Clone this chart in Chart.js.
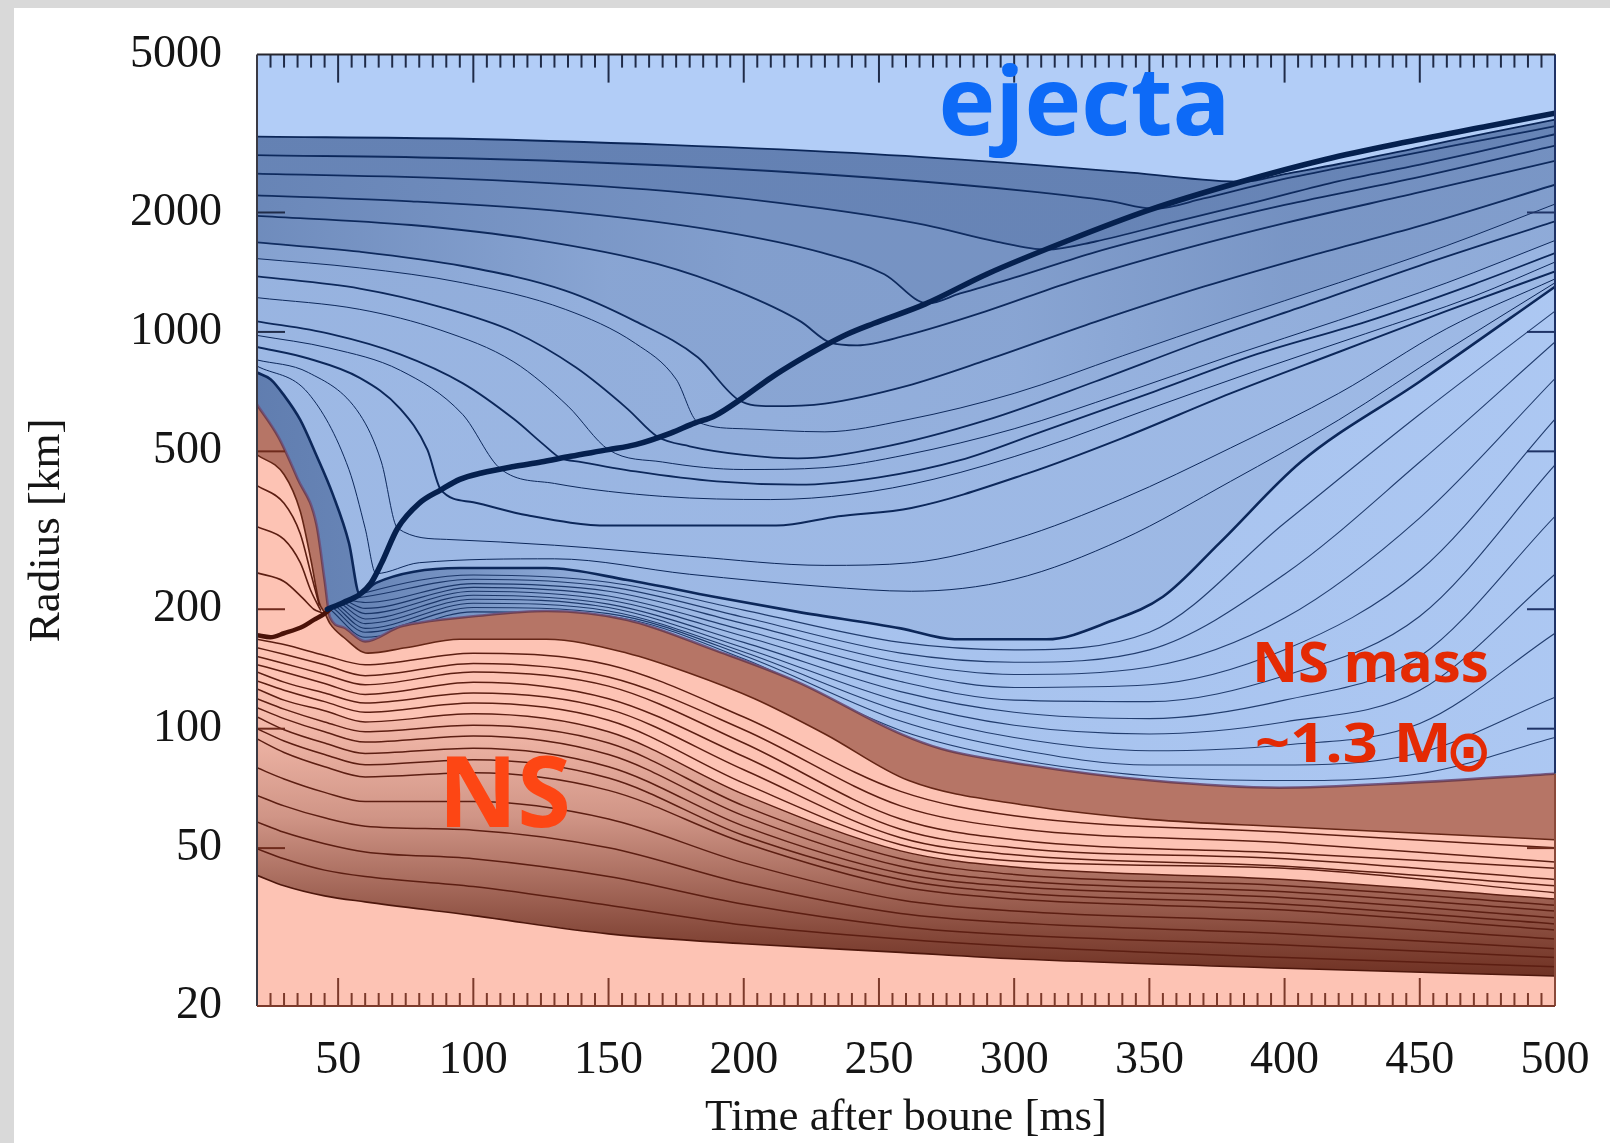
<!DOCTYPE html>
<html>
<head>
<meta charset="utf-8">
<title>Mass shell trajectories</title>
<script src="https://cdn.jsdelivr.net/npm/chart.js@4.4.1/dist/chart.umd.min.js"></script>
<style>
  html, body { margin: 0; padding: 0; background: #fff; }
  #box { width: 1610px; height: 1143px; }
</style>
</head>
<body>
<div id="box"><canvas id="myChart" width="1610" height="1143"></canvas></div>
<script>
// axes: time after bounce [ms], radius [km]
const timeTicks = [50, 100, 150, 200, 250, 300, 350, 400, 450, 500];
const radiusTicks = [20, 50, 100, 200, 500, 1000, 2000, 5000];

// shock front [t, r]
const earlyShock = [[20,172],[25,170],[30,174],[37,181],[41,188],[45,195],[47,200]];
const shockFront = [[46,200],[52,208],[58,218],[62,232],[66,261],[72,320],[80,370],[88,400],[95,425],[103,441],
  [115,458],[125,470],[136,486],[150,505],[160,520],[173,556],[182,590],[189,613],[200,685],[210,766],[220,845],
  [229,916],[238,985],[248,1050],[267,1175],[290,1400],[320,1700],[350,2030],[383,2380],[415,2720],[445,3010],[475,3300],[500,3557]];

// mass shells outside the neutron star [t, r], outermost first
const shellS1 = [[20,3105],[96,3068],[172,2960],[248,2806],[305,2644],[343,2521],[385,2390],[400,2500],[420,2650],[450,2920],[475,3170],[500,3430]];
const shellS2 = [[20,2790],[96,2740],[172,2627],[248,2447],[305,2264],[335,2140],[352,2045],[370,2170],[395,2390],[420,2590],[450,2840],[475,3060],[500,3300]];
const shellS3 = [[20,2505],[96,2432],[172,2264],[229,2047],[267,1860],[293,1691],[312,1612],[330,1690],[360,1900],[390,2130],[420,2400],[450,2640],[475,2880],[500,3150]];
const shellS4 = [[20,2210],[77,2134],[134,2010],[191,1795],[229,1584],[252,1398],[268,1180],[280,1250],[300,1370],[330,1590],[360,1800],[400,2090],[450,2460],[500,2950]];
const shellS5 = [[20,1962],[77,1860],[122,1712],[168,1484],[198,1263],[221,1063],[232,940],[242,925],[260,980],[290,1130],[320,1330],[360,1600],[400,1880],[450,2250],[500,2700]];
const shellS6 = [[20,1681],[58,1593],[96,1466],[134,1271],[160,1063],[183,863],[198,675],[210,650],[230,660],[260,730],[290,850],[330,1060],[370,1300],[410,1560],[450,1850],[500,2350]];
const shellM5 = [[20,1530],[58,1450],[96,1330],[134,1140],[160,935],[175,760],[183,593],[200,570],[230,560],[260,600],[300,700],[340,870],[380,1080],[420,1330],[460,1650],[500,2100]];
const shellS7 = [[20,1381],[58,1286],[88,1155],[115,1001],[138,813],[157,640],[168,545],[180,515],[200,490],[220,480],[250,510],[290,600],[330,750],[370,950],[410,1180],[450,1470],[500,1900]];
const shellM4 = [[20,1220],[58,1140],[88,1010],[115,840],[135,650],[150,505],[170,470],[200,450],[230,455],[260,490],[300,570],[340,700],[380,870],[420,1070],[460,1330],[500,1700]];
const shellS8 = [[20,1063],[47,989],[73,878],[96,743],[115,603],[126,520],[132,482],[140,470],[160,445],[190,420],[220,412],[250,430],[280,475],[310,560],[350,700],[390,880],[430,1060],[470,1320],[500,1580]];
const shellM3 = [[20,980],[47,910],[73,800],[96,620],[110,452],[130,415],[170,385],[210,378],[240,390],[270,425],[310,510],[350,640],[390,800],[430,990],[470,1230],[500,1500]];
const shellLb = [[20,916],[39,857],[58,766],[73,640],[83,505],[88,400],[100,372],[120,345],[150,325],[212,325],[235,343],[262,360],[305,440],[340,540],[380,700],[420,890],[460,1130],[500,1420]];
const shellM1 = [[20,850],[39,790],[58,620],[66,470],[72,320],[90,300],[130,290],[180,272],[230,258],[262,262],[300,300],[340,380],[380,510],[420,700],[460,1020],[500,1360]];
const shellM2 = [[20,820],[39,700],[54,450],[60,320],[64,246],[80,262],[130,268],[180,245],[230,228],[262,222],[300,238],[340,300],[380,420],[420,600],[460,900],[500,1330]];
const shellLa = [[20,790],[25,760],[30,692],[36,600],[42,488],[48,390],[54,294],[58,218],[64,233],[95,254],[127,254],[157,237],[189,215],[220,197],[258,179],[278,168],[312,168],[336,187],[355,215],[376,294],[406,470],[450,750],[500,1300]];

// shells that cross the shock early and sit just above the NS
const fanShells = [
  [[56,215],[60,220],[100,244],[150,234],[200,199],[258,165],[300,158],[350,175],[400,330],[450,620],[500,1128]],
  [[55,213],[60,215],[100,238],[150,228],[200,191],[258,155],[300,147],[350,158],[400,245],[450,470],[500,943]],
  [[54,211],[60,208],[100,232],[150,222],[200,184],[258,147],[300,137],[350,143],[400,190],[450,340],[500,763]],
  [[53,210],[60,201],[100,227],[150,216],[200,177],[258,139.5],[300,127],[350,129],[400,158],[450,250],[500,603]],
  [[52,208],[60,195],[100,222],[150,211],[200,171],[258,131.5],[300,118],[350,117],[400,136],[450,192],[500,462]],
  [[51,207],[60,189],[100,217],[150,206],[200,165],[258,124],[300,110],[350,106],[400,118],[450,152],[500,343]],
  [[50,205],[60,184],[100,212],[150,202],[200,160],[258,117],[300,102],[350,97],[400,104],[450,125],[500,245]],
  [[49,204],[60,179],[100,207],[150,198],[200,156],[258,110.6],[300,95],[350,88],[400,91],[450,103],[500,174]],
  [[48,202],[60,175],[100,202],[150,195],[200,153],[258,104.5],[300,89],[350,81],[400,81],[450,87],[500,120]],
  [[47,200],[60,170],[100,197],[150,192],[200,150],[258,99],[300,84],[350,76],[400,74],[450,77],[500,95]]
];

// neutron star surface and inner edge of the accreted layer
const nsSurface = [[20,656],[28,542],[35,427],[42,327],[45,237],[47,191],[52,180],[60,166],[73,181],[80,185],[100,192],[127,198],
  [157,188],[189,158],[220,131],[258,97],[273,89],[305,81],[351,74],[398,71],[445,73],[500,77]];
const nsBandInner = [[20,490],[30,437],[36,353],[40,265],[43,208],[45,196],[47,184],[52,170],[61,155],[75,160],[95,168],[127,168],
  [157,155],[180,138],[204,119],[230,97],[261,74],[305,64],[351,59],[398,56.7],[450,54.5],[500,52.5]];

// shells in the outer cap at very early times
const capShells = [
  [[20,410],[30,370],[36,310],[40,245],[43,205]],
  [[20,323],[30,300],[36,262],[40,222],[43.5,199]],
  [[20,247],[30,235],[37,213],[41,200],[44,196]]
];

// shells inside the neutron star, sampled at nsTimes
const nsTimes = [20, 30, 45, 60, 100, 150, 200, 258, 300, 400, 500];
const nsShells = [
  [168, 163, 153, 145, 155, 145, 107, 69.5, 60.3, 54.8, 50.1],
  [160, 154, 145, 136, 146, 135, 99.4, 63.9, 56.1, 51.6, 46.1],
  [152, 146, 137, 129, 139, 128, 92.0, 59.2, 52.5, 48.6, 44.5],
  [145, 139, 130, 122, 131, 119, 85.1, 55.8, 50.1, 47.0, 41.7],
  [139, 131, 123, 116, 123, 112, 78.8, 53.1, 48.1, 45.0, 40.2],
  [132, 125, 117, 110, 116, 105, 72.9, 51.0, 46.4, 44.5, 38.6],
  [126, 118, 111, 104, 109, 98.2, 68.3, 49.2, 44.8, 41.7, 37.2],
  [119, 112, 104, 98.2, 102, 92.0, 63.9, 47.0, 42.9, 40.2, 35.9],
  [113, 106, 98.2, 92.5, 95.9, 86.1, 60.3, 45.0, 41.4, 38.8, 34.7],
  [107, 99.4, 92.0, 86.6, 89.3, 80.2, 56.8, 43.2, 40.0, 37.5, 33.4],
  [100, 93.1, 86.1, 81.1, 83.5, 75.1, 53.8, 41.7, 38.6, 36.1, 32.2],
  [94.2, 87.1, 80.2, 75.6, 77.4, 69.9, 51.6, 40.0, 37.2, 34.9, 31.1]
];
const denseShells = [
  [79.7, 74.7, 69.1, 65.5, 65.5, 59.2, 45.9, 37.0, 34.7, 32.6, 29.5],
  [67.9, 63.9, 59.6, 56.8, 55.5, 50.1, 40.7, 34.2, 32.4, 30.4, 27.9],
  [58.2, 54.8, 51.3, 48.9, 47.0, 42.4, 36.1, 31.7, 30.2, 28.5, 26.5],
  [49.8, 47.0, 44.0, 42.4, 40.0, 35.9, 32.0, 29.5, 28.3, 26.5, 25.1]
];
const nsBottom = [42.7, 40.2, 37.9, 36.6, 33.8, 30.4, 28.7, 27.3, 26.3, 24.9, 23.8];

// ---------------------------------------------------------------------------
const serif = '"Liberation Serif", "Times New Roman", serif';
const blueLine = '#0b2658';
const brownLine = '#5c1e12';

const asPts = arr => arr.map(p => ({x: p[0], y: p[1]}));
const onNsTimes = vals => nsTimes.map((t, i) => ({x: t, y: vals[i]}));

// horizontal shading that changes with time: stops are [t, alpha]
function timeShade(stops, rgb) {
  return (c) => {
    const chart = c.chart;
    if (!chart.chartArea) return `rgba(${rgb},${stops[0][1]})`;
    const sx = chart.scales.x;
    const x0 = sx.getPixelForValue(20), x1 = sx.getPixelForValue(500);
    const g = chart.ctx.createLinearGradient(x0, 0, x1, 0);
    stops.forEach(([t, a]) => g.addColorStop((sx.getPixelForValue(t) - x0) / (x1 - x0), `rgba(${rgb},${a})`));
    return g;
  };
}

const datasets = [];
function add(ds) { datasets.push(ds); return datasets.length - 1; }

const navy = '29,60,117';
// blue shells, each shaded down to the next one
const blueSet = [
  [shellS1, [[20, .52], [500, .52]], 1.8],
  [shellS2, [[20, .5], [500, .5]], 1.8],
  [shellS3, [[20, .5], [200, .4], [300, .4], [400, .46], [500, .46]], 1.8],
  [shellS4, [[20, .48], [200, .32], [300, .32], [400, .42], [500, .42]], 1.8],
  [shellS5, [[20, .45], [150, .28], [300, .28], [400, .38], [500, .38]], 1.8],
  [shellS6, [[20, .3], [150, .2], [300, .22], [400, .33], [500, .33]], 1.8],
  [shellM5, [[20, .22], [300, .2], [500, .28]], 1.0],
  [shellS7, [[20, .18], [300, .18], [500, .24]], 1.8],
  [shellM4, [[20, .17], [500, .17]], 1.0],
  [shellS8, [[20, .16], [500, .16]], 1.8],
  [shellM3, [[20, .15], [500, .15]], 1.0],
  [shellLb, [[20, .14], [500, .14]], 2.0],
  [shellM1, [[20, .14], [500, .14]], 1.0],
  [shellM2, [[20, .14], [500, .14]], 1.0],
  [shellLa, [[20, .55], [58, .5], [100, .38], [150, .2], [220, .08], [500, .04]], 2.6]
];
const blueIdx = blueSet.map(([d, stops, w]) => add({
  data: asPts(d), borderColor: blueLine, borderWidth: w, order: 100,
  backgroundColor: timeShade(stops, navy), fill: false
}));
blueIdx.forEach((idx, i) => { if (i < blueIdx.length - 1) datasets[idx].fill = blueIdx[i + 1]; });

fanShells.forEach(d => add({
  data: asPts(d), borderColor: 'rgba(11,38,88,0.85)', borderWidth: 1.1, order: 95, fill: false
}));

const surfaceIdx = add({
  data: asPts(nsSurface), fill: 'start', backgroundColor: '#fdc3b4',
  borderColor: 'rgba(110,82,126,0.95)', borderWidth: 2.6, order: 90
});
// innermost ejected shell shades down to the NS surface
datasets[blueIdx[blueIdx.length - 1]].fill = surfaceIdx;

add({
  data: asPts(nsBandInner), fill: surfaceIdx, backgroundColor: 'rgba(112,40,24,0.5)',
  borderColor: '#652616', borderWidth: 1.6, order: 80
});

const nsIdx = nsShells.map(v => add({
  data: onNsTimes(v), borderColor: brownLine, borderWidth: 1.5, order: 60, fill: false
}));
denseShells.forEach(v => add({
  data: onNsTimes(v), borderColor: brownLine, borderWidth: 1.5, order: 60, fill: false
}));
add({
  data: onNsTimes(nsBottom), fill: nsIdx[6], borderColor: '#4e170c', borderWidth: 1.6, order: 70,
  backgroundColor: (c) => {
    const chart = c.chart;
    if (!chart.chartArea) return 'rgba(96,32,18,0.5)';
    const sy = chart.scales.y;
    const top = sy.getPixelForValue(110), bot = sy.getPixelForValue(23);
    const g = chart.ctx.createLinearGradient(0, top, 0, bot);
    [[110, 0.04], [60, 0.28], [40, 0.55], [30, 0.75], [23, 0.9]]
      .forEach(([r, a]) => g.addColorStop((sy.getPixelForValue(r) - top) / (bot - top), `rgba(92,30,16,${a})`));
    return g;
  }
});

capShells.forEach(d => add({
  data: asPts(d), borderColor: brownLine, borderWidth: 1.6, order: 50, fill: false
}));
add({ data: asPts(earlyShock), borderColor: '#4a1208', borderWidth: 4.5, order: 40, fill: false });
add({ data: asPts(shockFront), borderColor: '#05204e', borderWidth: 5.5, order: 30, fill: false });

// ---------------------------------------------------------------------------
function line(ctx, x0, y0, x1, y1, color, w) {
  ctx.beginPath(); ctx.moveTo(x0, y0); ctx.lineTo(x1, y1);
  ctx.strokeStyle = color; ctx.lineWidth = w; ctx.stroke();
}

// scale a text so its ink box fills the given rectangle
function drawInBox(ctx, text, font, color, x0, y0, x1, y1) {
  ctx.save();
  ctx.font = font;
  ctx.textAlign = 'left';
  ctx.textBaseline = 'alphabetic';
  const m = ctx.measureText(text);
  const w = m.actualBoundingBoxLeft + m.actualBoundingBoxRight;
  const h = m.actualBoundingBoxAscent + m.actualBoundingBoxDescent;
  ctx.translate(x0, y0);
  ctx.scale((x1 - x0) / w, (y1 - y0) / h);
  ctx.fillStyle = color;
  ctx.fillText(text, m.actualBoundingBoxLeft, m.actualBoundingBoxAscent);
  ctx.restore();
}

const backdrop = {
  id: 'backdrop',
  beforeDraw(chart) {
    const {ctx, chartArea: a} = chart;
    ctx.save();
    ctx.fillStyle = '#ffffff';
    ctx.fillRect(0, 0, chart.width, chart.height);
    ctx.fillStyle = '#d9d9d9';
    ctx.fillRect(0, 0, 14, chart.height);
    ctx.fillRect(0, 0, chart.width, 8);
    ctx.fillStyle = '#b2cdf7';
    ctx.fillRect(a.left, a.top, a.right - a.left, a.bottom - a.top);
    ctx.restore();
  }
};

const annotate = {
  id: 'annotate',
  afterDatasetsDraw(chart) {
    const {ctx, chartArea: a, scales: {x, y}} = chart;
    ctx.save();
    for (let t = 25; t <= 500; t += 5) {
      const px = x.getPixelForValue(t);
      const len = t % 50 === 0 ? 28 : 13;
      line(ctx, px, a.top, px, a.top + len, '#1f2b48', 2);
      line(ctx, px, a.bottom, px, a.bottom - len, '#7c3a2b', 2);
    }
    const nsLeft = nsSurface[0][1], nsRight = nsSurface[nsSurface.length - 1][1];
    radiusTicks.slice(1, -1).forEach(r => {
      const py = y.getPixelForValue(r);
      line(ctx, a.left, py, a.left + 28, py, r < nsLeft ? '#6e2a1c' : '#1f2b48', 2);
      line(ctx, a.right, py, a.right - 28, py, r < nsRight ? '#6e2a1c' : '#1f3366', 2);
    });
    line(ctx, a.left, a.top, a.right, a.top, '#26262e', 2);
    line(ctx, a.left, a.top, a.left, a.bottom, '#3a3a44', 2);
    line(ctx, a.right, a.top, a.right, y.getPixelForValue(nsRight), '#1f3366', 2);
    line(ctx, a.right, y.getPixelForValue(nsRight), a.right, a.bottom, '#8a4a3a', 2);
    line(ctx, a.left, a.bottom, a.right, a.bottom, '#7c3a2b', 2);

    const sans = '"Open Sans", "Noto Sans", sans-serif';
    drawInBox(ctx, 'ejecta', `bold 110px ${sans}`, '#0d6af7', 942, 63, 1224, 158);
    drawInBox(ctx, 'NS', `bold 100px ${sans}`, '#fd4614', 446, 755, 568, 828);
    drawInBox(ctx, 'NS mass', `bold 60px ${sans}`, '#e42a04', 1257, 640, 1487, 683);
    drawInBox(ctx, '~1.3 M', `bold 60px ${sans}`, '#e42a04', 1257, 722, 1447, 763);
    drawInBox(ctx, '\u2299', 'bold 60px "DejaVu Sans"', '#e42a04', 1450, 733, 1487, 772);
    ctx.restore();
  }
};

const myChart = new Chart(document.getElementById('myChart'), {
  type: 'line',
  data: { datasets: datasets },
  options: {
    responsive: false,
    animation: false,
    devicePixelRatio: 1,
    parsing: false,
    layout: { padding: { left: 0, right: 55, top: 51, bottom: 0 } },
    elements: {
      point: { radius: 0, hoverRadius: 0 },
      line: { cubicInterpolationMode: 'monotone', borderCapStyle: 'round', borderJoinStyle: 'round' }
    },
    plugins: {
      legend: { display: false },
      tooltip: { enabled: false },
      filler: { propagate: false }
    },
    scales: {
      x: {
        type: 'linear', min: 20, max: 500,
        grid: { display: false }, border: { display: false },
        afterBuildTicks: s => { s.ticks = timeTicks.map(v => ({ value: v })); },
        afterFit: s => { s.height = 137; },
        ticks: { font: { family: serif, size: 46 }, color: '#151515', padding: 19, maxRotation: 0, autoSkip: false,
                 callback: v => String(v) },
        title: { display: true, text: 'Time after boune [ms]', color: '#151515', padding: 0,
                 font: { family: serif, size: 45, lineHeight: 1.1 } }
      },
      y: {
        type: 'logarithmic', min: 20, max: 5000,
        grid: { display: false }, border: { display: false },
        afterBuildTicks: s => { s.ticks = radiusTicks.map(v => ({ value: v })); },
        afterFit: s => { s.width = 257; },
        ticks: { font: { family: serif, size: 46 }, color: '#151515', padding: 27, autoSkip: false,
                 callback: v => String(v) },
        title: { display: true, text: 'Radius [km]', color: '#151515', padding: { top: 22, bottom: 0 },
                 font: { family: serif, size: 45, lineHeight: 1.1 } }
      }
    }
  },
  plugins: [backdrop, annotate]
});
</script>
</body>
</html>
